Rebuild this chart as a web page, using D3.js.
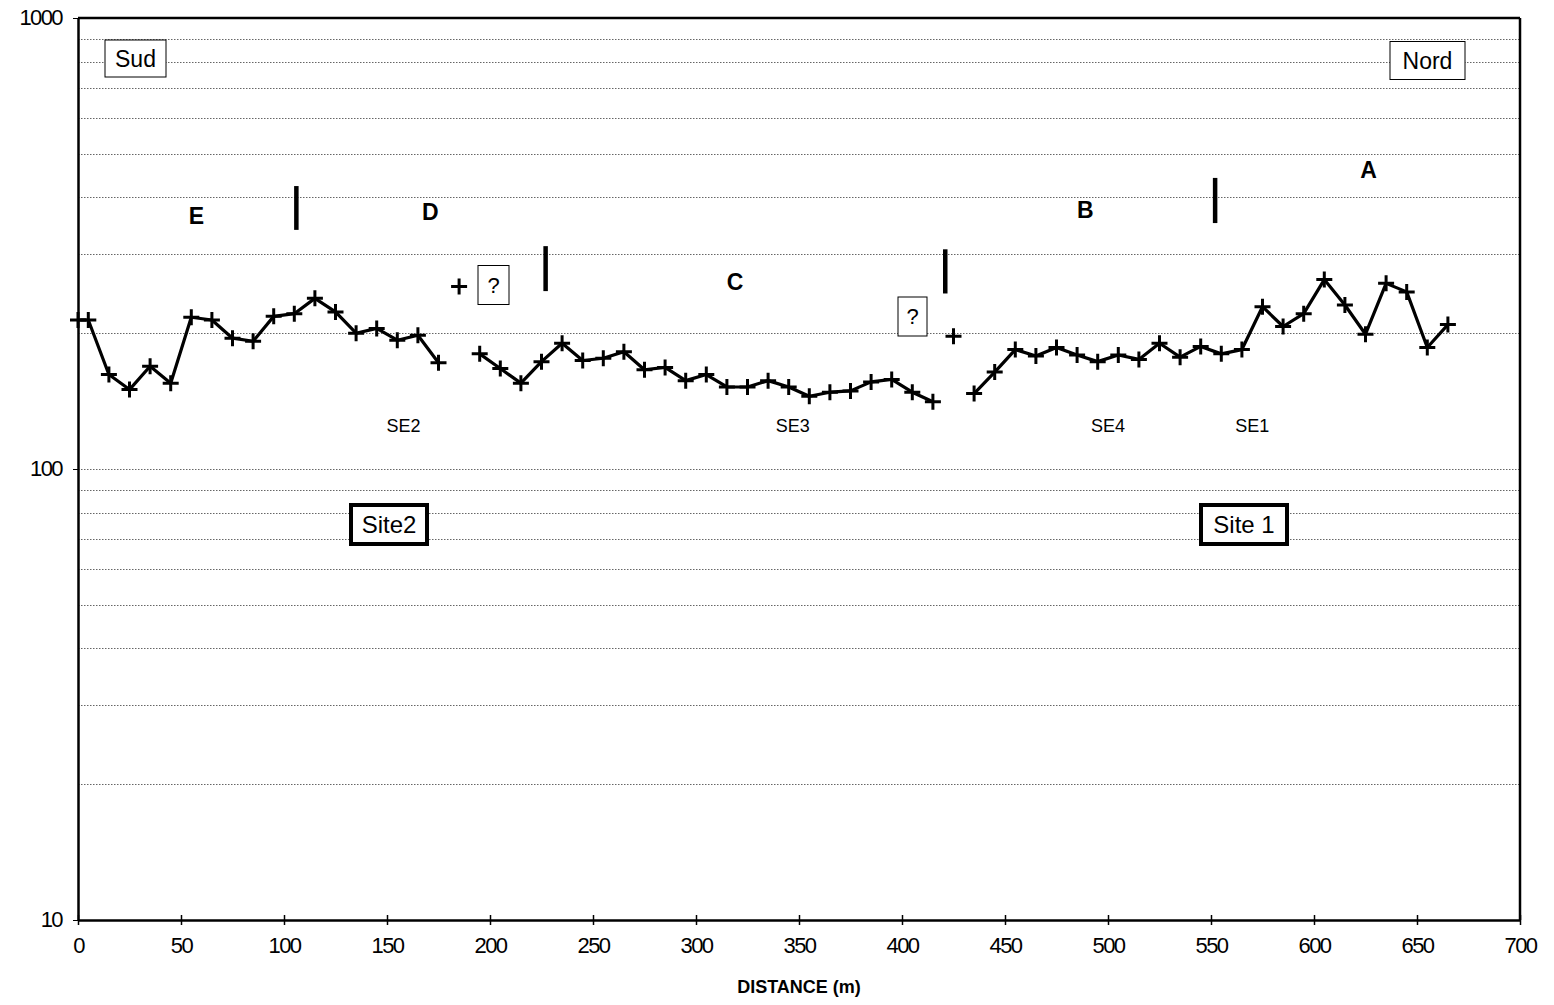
<html>
<head>
<meta charset="utf-8">
<style>
  body { margin: 0; background: #fff; }
  text { font-family: "Liberation Sans", Arial, sans-serif; fill: #000; }
  .tick text { font-size: 22px; letter-spacing: -1.6px; }
  .grid line { stroke: #666; stroke-width: 1; stroke-dasharray: 1.5,1.5; }
</style>
</head>
<body>
<svg class="chart"></svg>
<script src="https://d3js.org/d3.v7.min.js"></script>
<script>
  // profile segments: distance (m) and apparent resistivity
  var seg1Dist = [0, 5, 15, 25, 35, 45, 55, 65, 75, 85, 95, 105, 115, 125, 135, 145, 155, 165, 175];
  var seg1Res  = [214, 214, 162, 150, 169, 155, 217, 214, 195, 192, 218, 221, 239, 223, 200, 205, 193, 198, 172];

  var seg2Dist = [195, 205, 215, 225, 235, 245, 255, 265, 275, 285, 295, 305, 315, 325, 335, 345, 355, 365, 375, 385, 395, 405, 415];
  var seg2Res  = [180, 167, 155, 173, 190, 174, 176, 182, 166, 168, 157, 162, 152, 152, 157, 152, 145, 148, 149, 156, 158, 148, 141];

  var seg3Dist = [435, 445, 455, 465, 475, 485, 495, 505, 515, 525, 535, 545, 555, 565, 575, 585, 595, 605, 615, 625, 635, 645, 655, 665];
  var seg3Res  = [147, 164, 184, 178, 186, 179, 173, 179, 175, 190, 177, 187, 180, 184, 229, 207, 221, 263, 231, 199, 258, 247, 186, 209];

  // lone points
  var loneDist = [185, 425];
  var loneRes  = [254, 197];

  var xTicks = d3.range(0, 701, 50);
  var yTicks = [10, 100, 1000];

  // zone limits (distance, top, bottom)
  var limitDist   = [106, 227, 421, 552];
  var limitTop    = [424, 312, 307, 442];
  var limitBottom = [339, 248, 245, 351];

  var zoneNames = ["E", "D", "C", "B", "A"];
  var zoneDist  = [57.5, 171, 319, 489, 626.5];
  var zoneRes   = [364, 372, 260, 375, 460];

  var soundNames = ["SE2", "SE3", "SE4", "SE1"];
  var soundDist  = [158, 347, 500, 570];
  var soundRes   = [125, 125, 125, 125];

  var width = 1554, height = 1005;
  var mLeft = 78, mRight = 1520, mTop = 18, mBottom = 920;

  var svg = d3.select(".chart").attr("width", width).attr("height", height);

  var x = d3.scaleLinear().domain([0, 700]).range([mLeft, mRight]);
  var y = d3.scaleLog().domain([10, 1000]).range([mBottom, mTop]);

  // dotted gridlines at every log step
  var gridVals = [];
  [10, 100].forEach(function(b) { for (var k = 2; k <= 9; k++) gridVals.push(b * k); });
  gridVals.push(100);
  svg.append("g").attr("class", "grid")
    .selectAll("line").data(gridVals).enter().append("line")
      .attr("x1", mLeft).attr("x2", mRight)
      .attr("y1", function(d) { return Math.round(y(d)) + 0.5; })
      .attr("y2", function(d) { return Math.round(y(d)) + 0.5; });

  // frame
  svg.append("line").attr("x1", mLeft).attr("x2", mRight).attr("y1", mTop).attr("y2", mTop)
    .attr("stroke", "#000").attr("stroke-width", 2.5);
  svg.append("line").attr("x1", mRight).attr("x2", mRight).attr("y1", mTop).attr("y2", mBottom)
    .attr("stroke", "#000").attr("stroke-width", 2.5);

  var xAxis = svg.append("g").attr("transform", "translate(0," + mBottom + ")")
    .call(d3.axisBottom(x).tickValues(xTicks).tickFormat(d3.format("d")).tickSizeInner(6).tickSizeOuter(0).tickPadding(11));
  xAxis.select(".domain").attr("stroke-width", 2.5);
  xAxis.selectAll(".tick line").attr("y1", -5).attr("y2", 5).attr("stroke-width", 1.5);

  var yAxis = svg.append("g").attr("transform", "translate(" + mLeft + ",0)")
    .call(d3.axisLeft(y).tickValues(yTicks).tickFormat(d3.format("d")).tickSizeInner(5).tickSizeOuter(0).tickPadding(11));
  yAxis.select(".domain").attr("stroke-width", 2.5);
  yAxis.selectAll(".tick line").attr("x1", 0).attr("x2", -5);
  yAxis.selectAll(".tick text").attr("dy", "0.3em");

  svg.append("text").attr("x", x(350)).attr("y", 993).attr("text-anchor", "middle")
    .style("font-size", "18px").style("font-weight", "bold").text("DISTANCE (m)");

  // profile lines
  var line = d3.line().x(function(d) { return x(d[0]); }).y(function(d) { return y(d[1]); });
  var segments = [d3.zip(seg1Dist, seg1Res), d3.zip(seg2Dist, seg2Res), d3.zip(seg3Dist, seg3Res)];
  svg.selectAll(".seg").data(segments).enter().append("path")
    .attr("class", "seg").attr("d", line)
    .attr("fill", "none").attr("stroke", "#000").attr("stroke-width", 3.2).attr("stroke-linejoin", "round");

  var allPts = d3.merge(segments).concat(d3.zip(loneDist, loneRes));
  svg.selectAll(".pt").data(allPts).enter().append("path")
    .attr("class", "pt")
    .attr("transform", function(d) { return "translate(" + x(d[0]) + "," + y(d[1]) + ")"; })
    .attr("d", "M-8,0H8M0,-8V8")
    .attr("stroke", "#000").attr("stroke-width", 3).attr("fill", "none");

  // zone limit bars
  svg.selectAll(".limit").data(d3.range(limitDist.length)).enter().append("line")
    .attr("x1", function(i) { return x(limitDist[i]); }).attr("x2", function(i) { return x(limitDist[i]); })
    .attr("y1", function(i) { return y(limitTop[i]); }).attr("y2", function(i) { return y(limitBottom[i]); })
    .attr("stroke", "#000").attr("stroke-width", 4.5);

  svg.selectAll(".zone").data(d3.range(zoneNames.length)).enter().append("text")
    .attr("x", function(i) { return x(zoneDist[i]); }).attr("y", function(i) { return y(zoneRes[i]); })
    .attr("text-anchor", "middle").attr("dy", "0.35em")
    .style("font-size", "23px").style("font-weight", "bold")
    .text(function(i) { return zoneNames[i]; });

  svg.selectAll(".sound").data(d3.range(soundNames.length)).enter().append("text")
    .attr("x", function(i) { return x(soundDist[i]); }).attr("y", function(i) { return y(soundRes[i]); })
    .attr("text-anchor", "middle").attr("dy", "0.35em")
    .style("font-size", "18px")
    .text(function(i) { return soundNames[i]; });

  // boxed labels
  function box(label, cx, cy, w, h, size, sw) {
    svg.append("rect").attr("x", cx - w / 2).attr("y", cy - h / 2).attr("width", w).attr("height", h)
      .attr("fill", "#fff").attr("stroke", "#000").attr("stroke-width", sw);
    svg.append("text").attr("x", cx).attr("y", cy).attr("dy", "0.36em").attr("text-anchor", "middle")
      .style("font-size", size + "px").text(label);
  }
  box("Sud", 135.5, 58.5, 61, 37, 23, 1);
  box("Nord", 1427.5, 60.5, 75, 38, 23, 1);
  box("?", 493.5, 285, 31, 39, 22, 1);
  box("?", 912.5, 316.5, 29, 39, 22, 1);
  box("Site2", 389, 524.5, 76, 39, 24, 4);
  box("Site 1", 1244, 524.5, 86, 39, 24, 4);
</script>
</body>
</html>
